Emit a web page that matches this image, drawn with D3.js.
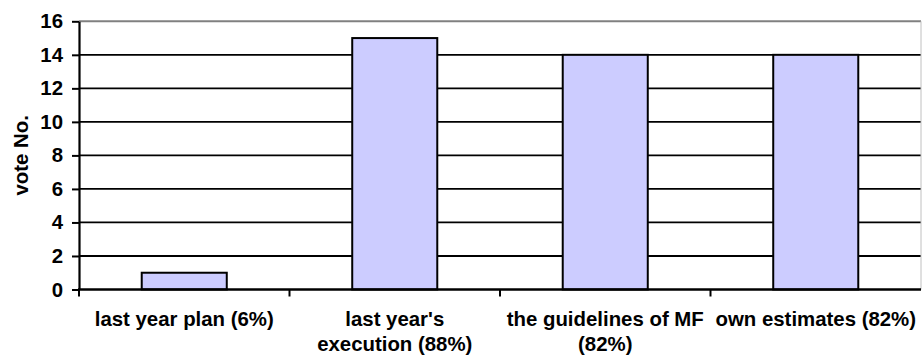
<!DOCTYPE html>
<html>
<head>
<meta charset="utf-8">
<script src="https://cdn.jsdelivr.net/npm/d3@7"></script>
<style>
  html, body { margin: 0; padding: 0; background: #fff; }
  svg { display: block; }
  text { font-family: "Liberation Sans", Arial, sans-serif; font-weight: bold; fill: #000; }
</style>
</head>
<body>
<svg id="chart" width="922" height="358"></svg>
<script>
// Category labels (split into lines as shown under each bar)
const categoryLines = [
  ["last year plan (6%)"],
  ["last year's", "execution (88%)"],
  ["the guidelines of MF", "(82%)"],
  ["own estimates (82%)"]
];
const categories = ["plan", "execution", "guidelines", "estimates"];
const votes = [1, 15, 14, 14];
const yTicks = [0, 2, 4, 6, 8, 10, 12, 14, 16];
const yTitle = "vote No.";

const W = 922, H = 358;
const plot = { left: 79, right: 921, top: 21.3, bottom: 289.5 };
const fontSize = 20.4;

const svg = d3.select("#chart");

const x = d3.scaleBand()
  .domain(categories)
  .range([plot.left, plot.right])
  .paddingInner(0.596)
  .paddingOuter(0.298);

const y = d3.scaleLinear()
  .domain([0, 16])
  .range([plot.bottom, plot.top]);

// Horizontal gridlines (top one drawn gray as the plot frame)
svg.append("g")
  .selectAll("line")
  .data(yTicks.filter(d => d > 0))
  .join("line")
  .attr("x1", plot.left)
  .attr("x2", plot.right)
  .attr("y1", d => y(d))
  .attr("y2", d => y(d))
  .attr("stroke", d => d === 16 ? "#808080" : "#000")
  .attr("stroke-width", d => d === 16 ? 2 : 1.8);

// Right frame edge
svg.append("line")
  .attr("x1", plot.right).attr("x2", plot.right)
  .attr("y1", plot.top).attr("y2", plot.bottom)
  .attr("stroke", "#c0c0c0").attr("stroke-width", 1);

// Bars
svg.append("g")
  .selectAll("rect")
  .data(votes)
  .join("rect")
  .attr("x", (d, i) => x(categories[i]))
  .attr("width", x.bandwidth())
  .attr("y", d => y(d))
  .attr("height", d => y(0) - y(d))
  .attr("fill", "#ccccff")
  .attr("stroke", "#000")
  .attr("stroke-width", 2);

// Y axis
const yAxis = svg.append("g")
  .attr("transform", `translate(${plot.left},0)`)
  .call(d3.axisLeft(y).tickValues(yTicks).tickSize(7).tickPadding(9).tickSizeOuter(0));
yAxis.select(".domain").attr("stroke", "#000").attr("stroke-width", 2.2);
yAxis.selectAll(".tick line").attr("stroke", "#000").attr("stroke-width", 2);
yAxis.selectAll(".tick text")
  .attr("font-size", fontSize)
  .attr("font-family", "Liberation Sans, Arial, sans-serif")
  .attr("font-weight", "bold")
  .attr("fill", "#000");

// X axis: boundary ticks between categories
const step = x.step();
const boundaries = d3.range(categories.length + 1).map(i => plot.left + i * step);
svg.append("line")
  .attr("x1", plot.left - 1).attr("x2", plot.right)
  .attr("y1", plot.bottom).attr("y2", plot.bottom)
  .attr("stroke", "#000").attr("stroke-width", 2.4);
svg.append("g")
  .selectAll("line")
  .data(boundaries.slice(0, -1))
  .join("line")
  .attr("x1", d => d).attr("x2", d => d)
  .attr("y1", plot.bottom).attr("y2", plot.bottom + 7)
  .attr("stroke", "#000").attr("stroke-width", 2);

// Category labels
const labels = svg.append("g")
  .selectAll("text")
  .data(categoryLines)
  .join("text")
  .attr("text-anchor", "middle")
  .attr("font-size", fontSize)
  .attr("transform", (d, i) => `translate(${x(categories[i]) + x.bandwidth() / 2},0)`);
labels.selectAll("tspan")
  .data(d => d)
  .join("tspan")
  .attr("x", 0)
  .attr("y", (d, j) => 326 + j * 25)
  .text(d => d);

// Y axis title
svg.append("text")
  .attr("transform", `translate(28,${(plot.top + plot.bottom) / 2}) rotate(-90)`)
  .attr("text-anchor", "middle")
  .attr("font-size", fontSize)
  .text(yTitle);
</script>
</body>
</html>
